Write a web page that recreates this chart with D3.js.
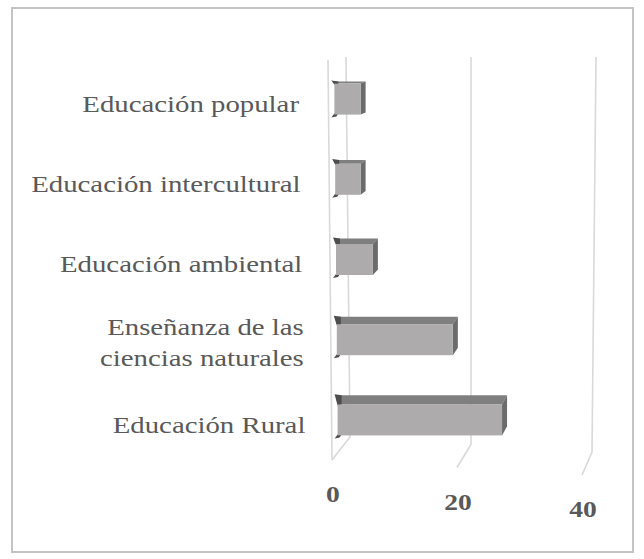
<!DOCTYPE html>
<html>
<head>
<meta charset="utf-8">
<script src="https://cdn.jsdelivr.net/npm/d3@7"></script>
<style>
html,body{margin:0;padding:0;background:#fff;}
svg{display:block;}
</style>
</head>
<body>
<svg id="chart" width="644" height="559"></svg>
<script>
// ---- data ----
const categories = ["Educación popular", "Educación intercultural", "Educación ambiental", "Enseñanza de las\nciencias naturales", "Educación Rural"];
const values = [4, 4, 6, 19, 27];
const tickValues = [0, 20, 40];

// ---- layout ----
const svg = d3.select("#chart");
const W = 644, H = 559;

svg.append("rect")
  .attr("x", 12).attr("y", 8).attr("width", 621).attr("height", 544)
  .attr("fill", "#fff").attr("stroke", "#c4c4c4").attr("stroke-width", 2);

// perspective scales
const xFront = d3.scaleLinear().domain([0, 40]).range([336, 582]);
const xBackTop = d3.scaleLinear().domain([0, 40]).range([346, 596]);
const xBackBottom = d3.scaleLinear().domain([0, 40]).range([350, 592]);
const yBackBottom = d3.scaleLinear().domain([0, 40]).range([437, 452]);
const xFloor = d3.scaleLinear().domain([0, 40]).range([332, 582]);
const yFloor = d3.scaleLinear().domain([0, 40]).range([460, 475]);
const y = d3.scalePoint().domain(categories).range([59, 460]).padding(0.5);

const grid = svg.append("g").attr("fill", "none").attr("stroke", "#d9d9d9").attr("stroke-width", 1.6);

// left wall front edge
grid.append("line").attr("x1", 328).attr("y1", 60).attr("x2", 332).attr("y2", yFloor(0));

grid.selectAll("path.gl").data(tickValues).join("path")
  .attr("class", "gl")
  .attr("d", t => `M${xBackTop(t)},57 L${xBackBottom(t)},${yBackBottom(t)} L${xFloor(t)},${yFloor(t)}`);

// bars
const barH = 31, dx = 5;
const bars = svg.append("g");
categories.forEach((c, i) => {
  const v = values[i];
  const cy = y(c);
  const x0 = xFront(0) + (i - 2) * 0.8;
  const x1 = xFront(v);
  const y0 = cy - barH / 2, y1 = cy + barH / 2;
  const dy = 2 + 1.8 * i;
  const g = bars.append("g");
  // top face
  g.append("polygon")
    .attr("points", [[x0 - 2, y0 - dy], [x1 + dx, y0 - dy], [x1, y0], [x0, y0]].map(p => p.join(",")).join(" "))
    .attr("fill", "#7f7f7f");
  // left dark tips
  g.append("polygon")
    .attr("points", [[x0 - 3, y0 - dy - 1], [x0 + 4, y0 - dy], [x0 + 4, y0 + 1], [x0, y0 + 1]].map(p => p.join(",")).join(" "))
    .attr("fill", "#4d4d4d");
  g.append("polygon")
    .attr("points", [[x0, y1 - 1], [x0 + 4, y1 - 1], [x0 + 2, y1 + 2], [x0 - 3, y1 + 3]].map(p => p.join(",")).join(" "))
    .attr("fill", "#4d4d4d");
  // side face
  g.append("polygon")
    .attr("points", [[x1, y0], [x1 + dx, y0 - dy], [x1 + dx, y1 - dy], [x1, y1]].map(p => p.join(",")).join(" "))
    .attr("fill", "#6b6b6b");
  // front face
  g.append("rect")
    .attr("x", x0).attr("y", y0).attr("width", x1 - x0).attr("height", barH)
    .attr("fill", "#adabab");
});

// category labels
const labels = svg.append("g")
  .attr("font-family", "'Liberation Serif', 'Times New Roman', serif")
  .attr("font-size", 24).attr("fill", "#595959").attr("text-anchor", "end");
categories.forEach((c, i) => {
  const lines = c.split("\n");
  const cy = y(c);
  const g = labels.append("g")
    .attr("transform", `translate(${299 + 1.6 * i},0) scale(1.2,1)`);
  if (lines.length === 1) {
    g.append("text").attr("x", 0).attr("y", cy + 13).text(lines[0]);
  } else {
    g.append("text").attr("x", 0).attr("y", cy - 5).text(lines[0]);
    g.append("text").attr("x", 0).attr("y", cy + 26).text(lines[1]);
  }
});

// tick labels
const ticks = svg.append("g")
  .attr("font-family", "'Liberation Serif', 'Times New Roman', serif")
  .attr("font-size", 23).attr("font-weight", "bold").attr("fill", "#595959").attr("text-anchor", "middle");
tickValues.forEach(t => {
  ticks.append("g")
    .attr("transform", `translate(${xFloor(t) + 1},${yFloor(t) + 42}) scale(1.2,1)`)
    .append("text").attr("x", 0).attr("y", 0).text(t);
});
</script>
</body>
</html>
